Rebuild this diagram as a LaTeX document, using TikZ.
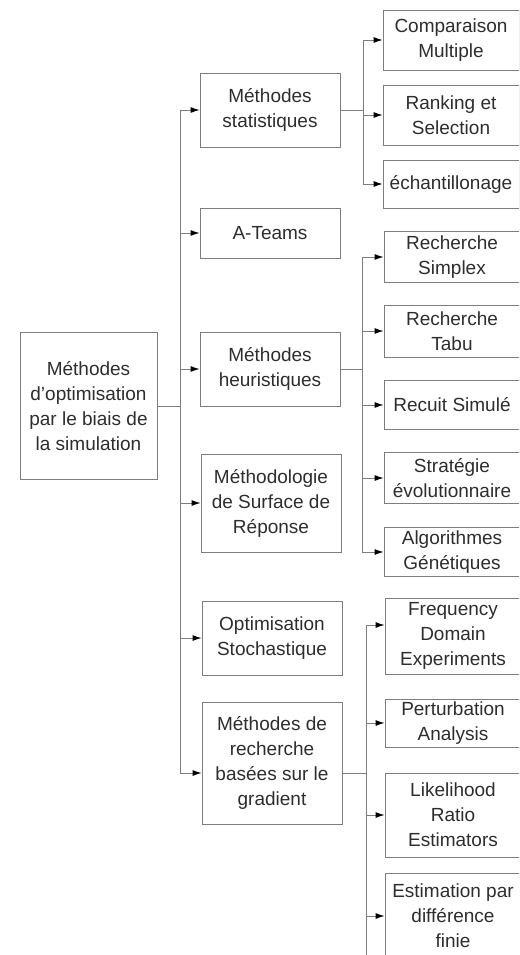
\documentclass[tikz,border=0pt]{standalone}
\usepackage{fontspec}
\setmainfont{Liberation Sans}
\usetikzlibrary{arrows.meta,positioning}
\definecolor{boxgray}{RGB}{125,125,125}
\definecolor{txtgray}{RGB}{45,45,45}
\tikzset{
  box/.style={draw=boxgray, line width=0.9pt, align=center, text=txtgray,
    font=\fontsize{19}{25}\selectfont, inner sep=2pt},
  mid/.style={box, minimum width=140pt},
  leaf/.style={box, minimum width=136pt},
  link/.style={draw=boxgray, line width=0.9pt},
  arr/.style={link, -{Latex[length=9pt,width=6pt,color=black]}}
}
\begin{document}
\begin{tikzpicture}[x=1pt,y=-1pt]
  \useasboundingbox (0,0) rectangle (519,955);
  \clip (0,0) rectangle (519,955);

  % Root
  \node[box, minimum width=137pt, minimum height=147pt] (root) at (88.5,406)
    {Méthodes\\d'optimisation\\par le biais de\\la simulation};

  % Families
  \node[mid, minimum height=74pt] (stat) at (270,110) {Méthodes\\statistiques};
  \node[mid, minimum height=50pt] (ateams) at (270,233) {A-Teams};
  \node[mid, minimum height=74pt] (heur) at (270,369) {Méthodes\\heuristiques};
  \node[mid, minimum height=98pt] (surf) at (271,503) {Méthodologie\\de Surface de\\Réponse};
  \node[mid, minimum height=74pt] (stoch) at (272,638) {Optimisation\\Stochastique};
  \node[mid, minimum height=122pt] (grad) at (272,763) {Méthodes de\\recherche\\basées sur le\\gradient};

  % Statistical methods
  \node[leaf, minimum height=60pt] (comp) at (451,40) {Comparaison\\Multiple};
  \node[leaf, minimum height=60pt] (rank) at (451,115) {Ranking et\\Selection};
  \node[leaf, minimum height=48pt] (echan) at (451,184) {échantillonage};

  % Heuristics
  \node[leaf, minimum height=51pt] (simplex) at (452,257) {Recherche\\Simplex};
  \node[leaf, minimum height=52pt] (tabu) at (452,331) {Recherche\\Tabu};
  \node[leaf, minimum height=49pt] (recuit) at (452,405) {Recuit Simulé};
  \node[leaf, minimum height=51pt] (strat) at (452,478) {Stratégie\\évolutionnaire};
  \node[leaf, minimum height=49pt] (algo) at (452,552) {Algorithmes\\Génétiques};

  % Gradient based
  \node[leaf, minimum height=76pt] (freq) at (453,636) {Frequency\\Domain\\Experiments};
  \node[leaf, minimum height=48pt] (pert) at (453,723) {Perturbation\\Analysis};
  \node[leaf, minimum height=84pt] (likel) at (453,815) {Likelihood\\Ratio\\Estimators};
  \node[leaf, minimum height=86pt] (estim) at (453,916) {Estimation par\\différence\\finie};

  % Main trunk
  \coordinate (ga) at ([yshift=-10pt]grad.west);
  \draw[link] (root.east) -- ++(23,0) coordinate (rj);
  \draw[link] (rj |- stat.west) -- (rj |- ga);
  \foreach \n in {stat,ateams,heur,surf,stoch}
    \draw[arr] (rj |- \n.west) -- (\n.west);
  \draw[arr] (rj |- ga) -- (ga);

  % Statistical branch
  \draw[link] (stat.east) -- ++(23,0) coordinate (sj);
  \draw[link] (sj |- comp.west) -- (sj |- echan.west);
  \foreach \n in {comp,rank,echan}
    \draw[arr] (sj |- \n.west) -- (\n.west);

  % Heuristic branch
  \draw[link] (heur.east) -- ++(22,0) coordinate (hj);
  \draw[link] (hj |- simplex.west) -- (hj |- algo.west);
  \foreach \n in {simplex,tabu,recuit,strat,algo}
    \draw[arr] (hj |- \n.west) -- (\n.west);

  % Gradient branch
  \coordinate (ge) at ([yshift=-10pt]grad.east);
  \coordinate (fa) at ([yshift=11pt]freq.west);
  \draw[link] (ge) -- ++(24,0) coordinate (gj);
  \draw[link] (gj |- fa) -- ++(0,340);
  \draw[arr] (gj |- fa) -- (fa);
  \foreach \n in {pert,likel,estim}
    \draw[arr] (gj |- \n.west) -- (\n.west);
\end{tikzpicture}
\end{document}
